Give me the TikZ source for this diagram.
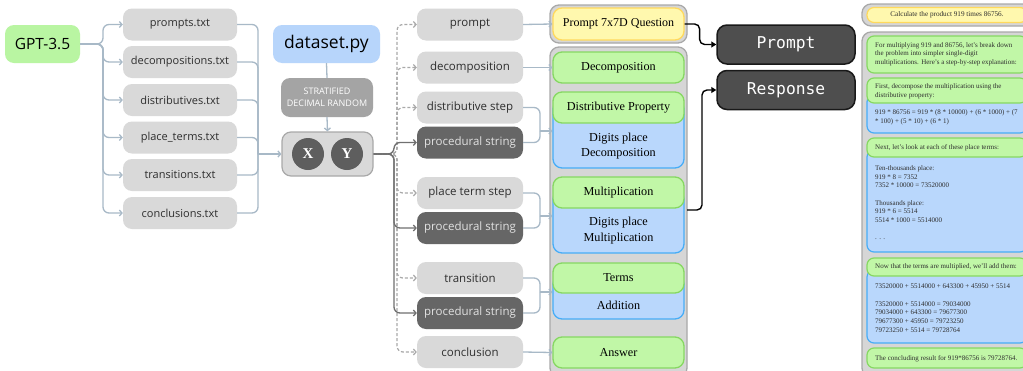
\documentclass[tikz,border=0pt]{standalone}
\usepackage{fontspec}
\setmainfont{Liberation Serif}
\newfontfamily\osans{Open Sans}
\newfontfamily\dmono{DejaVu Sans Mono}
\usetikzlibrary{arrows.meta,calc}
\definecolor{gptgreen}{HTML}{B9F5A2}
\definecolor{ggreen}{HTML}{C1F7A7}
\definecolor{ggreenb}{HTML}{86D862}
\definecolor{dsblue}{HTML}{B7D5FB}
\definecolor{fgray}{HTML}{D9D9D9}
\definecolor{tdark}{HTML}{2E2E2E}
\definecolor{pgray}{HTML}{666666}
\definecolor{ptext}{HTML}{E2E2E2}
\definecolor{sgray}{HTML}{A4A4A4}
\definecolor{cgray}{HTML}{D6D6D6}
\definecolor{cgrayb}{HTML}{A9A9A9}
\definecolor{yfill}{HTML}{FFF8AE}
\definecolor{yborder}{HTML}{FFD95C}
\definecolor{bfill}{HTML}{B9D7FC}
\definecolor{bborder}{HTML}{47ADF7}
\definecolor{dbox}{HTML}{4E4E4E}
\definecolor{cline}{HTML}{A8B9C7}
\definecolor{dline}{HTML}{A9A9A9}
\definecolor{sline}{HTML}{707070}
\definecolor{circ}{HTML}{5E5E5E}
\tikzset{
  base/.style={rounded corners=9pt, inner sep=0pt, align=center},
  filebox/.style={base, fill=fgray, text=tdark, minimum width=114pt, minimum height=32pt, font=\osans\fontsize{11}{13}\selectfont},
  midbox/.style={filebox, minimum width=106pt, font=\osans\fontsize{11.5}{13}\selectfont},
  procbox/.style={midbox, fill=pgray, text=ptext},
  bigbox/.style={base, minimum height=38pt, text=black},
  stratbox/.style={base, fill=sgray, text=white, minimum width=92pt, minimum height=39pt, font=\osans\fontsize{9}{12}\selectfont},
  xybox/.style={base, fill=fgray, draw=cgrayb, line width=1.2pt, minimum width=91pt, minimum height=44pt},
  xycirc/.style={circle, fill=circ, text=white, minimum size=32pt, inner sep=0pt, font=\bfseries\fontsize{15}{16}\selectfont},
  contbox/.style={rounded corners=9pt, fill=cgray, draw=cgrayb, line width=1.3pt, inner sep=0pt},
  ybox/.style={base, fill=yfill, draw=yborder, line width=1.3pt, minimum width=131pt, font=\fontsize{12}{13}\selectfont},
  gbox/.style={base, fill=ggreen, draw=ggreenb, line width=1.3pt, minimum width=131pt, font=\fontsize{12.2}{13}\selectfont},
  bbox/.style={base, fill=bfill, draw=bborder, line width=1.3pt, minimum width=131pt},
  btext/.style={align=center, inner sep=0pt, font=\fontsize{12.2}{15.3}\selectfont},
  darkbox/.style={rounded corners=10pt, fill=dbox, draw=black!90, line width=1.5pt, minimum width=138pt, minimum height=39pt, inner sep=0pt, text=white, font=\dmono\fontsize{16.3}{18}\selectfont},
  rgbox/.style={rounded corners=7pt, fill=ggreen, draw=ggreenb, line width=1.2pt, minimum width=160pt, inner sep=0pt},
  rbbox/.style={rounded corners=7pt, fill=bfill, draw=bborder, line width=1.2pt, minimum width=160pt, inner sep=0pt},
  rtext/.style={anchor=west, align=left, inner sep=0pt, text=tdark, font=\fontsize{7}{8.67}\selectfont},
  conn/.style={draw=cline, line width=1.3pt, rounded corners=6pt},
  arr/.style={-{Straight Barb[length=2.6pt,width=6pt]}},
  dconn/.style={draw=dline, line width=1.2pt, dash pattern=on 3pt off 2pt, rounded corners=6pt},
  sconn/.style={draw=sline, line width=1.3pt, rounded corners=6pt},
  bconn/.style={draw=black, line width=1.4pt, rounded corners=5pt, -{Triangle[length=5pt,width=6pt]}},
}
\begin{document}
\begin{tikzpicture}[x=1pt,y=-1pt]
\useasboundingbox (0,0) rectangle (1023,370);
\clip (0,0) rectangle (1023,370);
\fill[white] (0,0) rectangle (1023,370);

% left
\node[bigbox, fill=gptgreen, minimum width=75pt, font=\osans\fontsize{15.5}{18}\selectfont] (gpt) at (42.5,44) {GPT-3.5};
\node[filebox] (f1) at (180,24.5) {prompts.txt};
\node[filebox] (f2) at (180,62) {decompositions.txt};
\node[filebox] (f3) at (180,100) {distributives.txt};
\node[filebox] (f4) at (180,137.5) {place\_terms.txt};
\node[filebox] (f5) at (180,175) {transitions.txt};
\node[filebox] (f6) at (180,213) {conclusions.txt};
\coordinate (gs) at (103,44);
\foreach \f in {f1,f2,f3,f4,f5,f6}{
  \draw[conn,arr] (gpt.east) -- (gs) |- (\f.west);
}

% dataset
\node[bigbox, fill=dsblue, minimum width=107pt, font=\osans\fontsize{17.5}{19}\selectfont] (ds) at (326.5,44) {dataset.py};
\node[stratbox] (st) at (327,97.5) {STRATIFIED\\DECIMAL RANDOM};
\node[xybox] (xy) at (327.5,154) {};
\node[xycirc] (cx) at (308,154) {X};
\node[xycirc] (cy) at (347,154) {Y};
\draw[conn] (ds.south) -- (st.north);
\draw[conn,arr] (st.south) -- (xy.north);
\coordinate (mg) at (258,154);
\foreach \f in {f1,f2,f3,f4,f5,f6}{
  \draw[conn] (\f.east) -| (mg);
}
\draw[conn,arr] (mg) -- (xy.west);

% middle column
\node[midbox] (mp) at (470,24.5) {prompt};
\node[midbox] (md) at (470,67.5) {decomposition};
\node[midbox] (ms) at (470,107.5) {distributive step};
\node[procbox] (pr1) at (470,142.5) {procedural string};
\node[midbox] (mt) at (470,193) {place term step};
\node[procbox] (pr2) at (470,228) {procedural string};
\node[midbox] (mr) at (470,278) {transition};
\node[procbox] (pr3) at (470,313) {procedural string};
\node[midbox] (mc) at (470,352) {conclusion};

\coordinate (sp) at (394,154);
\coordinate (sq) at (397,154);
\foreach \m in {mp,md,ms,mt,mr,mc}{
  \draw[dconn,arr] (xy.east) -- (sq) |- (\m.west);
}
\foreach \m in {pr1,pr2,pr3}{
  \draw[sconn,arr] (xy.east) -- (sp) |- (\m.west);
}

% right column containers
\node[contbox, minimum width=137pt, minimum height=38pt] (c1) at (618.5,24) {};
\node[contbox, minimum width=137pt, minimum height=330pt] (c2) at (618.5,212) {};
\node[ybox, minimum height=32pt] (yq) at (618.5,24) {Prompt 7x7D Question};
\node[gbox, minimum height=31pt] (gd) at (618.5,67.5) {Decomposition};
\node[bbox, minimum height=68pt] (ba) at (618.5,134) {};
\node[btext] (ta) at (618.5,146) {Digits place\\Decomposition};
\node[gbox, minimum height=31pt] (ga) at (618.5,107.5) {Distributive Property};
\node[bbox, minimum height=63pt] (bb) at (618.5,221.5) {};
\node[btext] (tb) at (618.5,230.5) {Digits place\\Multiplication};
\node[gbox, minimum height=31pt] (gb) at (618.5,192.5) {Multiplication};
\node[bbox, minimum height=44pt] (bc) at (618.5,297) {};
\node[btext] (tc) at (618.5,305.5) {Addition};
\node[gbox, minimum height=30pt] (gc) at (618.5,278) {Terms};
\node[gbox, minimum height=31pt] (ge) at (618.5,352.5) {Answer};

\draw[conn,arr] (mp.east) -- (yq.west);
\draw[conn,arr] (md.east) -- (gd.west);
\draw[conn,arr] (mc.east) -- (ge.west);
\coordinate (m1) at (540,131);
\coordinate (m2) at (540,216);
\coordinate (m3) at (540,292);
\draw[conn] (ms.east) -| (m1);
\draw[conn] (pr1.east) -| (m1);
\draw[conn,arr] (m1) -- (ba.west |- m1);
\draw[conn] (mt.east) -| (m2);
\draw[conn] (pr2.east) -| (m2);
\draw[conn,arr] (m2) -- (bb.west |- m2);
\draw[conn] (mr.east) -| (m3);
\draw[conn] (pr3.east) -| (m3);
\draw[conn,arr] (m3) -- (bc.west |- m3);

% prompt / response
\node[darkbox] (pbox) at (786,44.5) {Prompt};
\node[darkbox] (rbox) at (786,90) {Response};
\coordinate (rsrc) at (687,210);
\draw[bconn] (yq.east) -- ++(15,0) |- (pbox.west);
\draw[bconn] (rsrc) -- ++(15,0) |- (rbox.west);

% right panel
\node[contbox, minimum width=175pt, minimum height=22pt] (rc1) at (949.5,15) {};
\node[contbox, minimum width=175pt, minimum height=345pt] (rc2) at (949.5,204.5) {};
\node[rounded corners=7pt, fill=yfill, draw=yborder, line width=1.2pt, minimum width=160pt, minimum height=15pt, inner sep=0pt, font=\fontsize{7.2}{8}\selectfont, text=tdark] (ry) at (947,15) {Calculate the product 919 times 86756.};
\node[rgbox, minimum height=37pt] (g1) at (947,54.5) {};
\node[rbbox, minimum height=38pt] (b2) at (947,114) {};
\node[rgbox, minimum height=25pt] (g2) at (947,90.5) {};
\node[rbbox, minimum height=102pt] (b3) at (947,201) {};
\node[rgbox, minimum height=19pt] (g3) at (947,147.5) {};
\node[rbbox, minimum height=73pt] (b4) at (947,306.5) {};
\node[rgbox, minimum height=18pt] (g4) at (947,267) {};
\node[rgbox, minimum height=20pt] (g5) at (947,358) {};

\node[rtext] (t1) at (875,54) {For multiplying 919 and 86756, let's break down\\the problem into simpler single-digit\\multiplications. Here's a step-by-step explanation:};
\node[rtext] (t2) at (875,91.2) {First, decompose the multiplication using the\\distributive property:};
\node[rtext] (t3) at (875,117.2) {919 * 86756 = 919 * (8 * 10000) + (6 * 1000) + (7\\* 100) + (5 * 10) + (6 * 1)};
\node[rtext] (t4) at (875,147.3) {Next, let's look at each of these place terms:};
\node[rtext] (t5) at (875,202.8) {Ten-thousands place:\\919 * 8 = 7352\\7352 * 10000 = 73520000\\[8.67pt]Thousands place:\\919 * 6 = 5514\\5514 * 1000 = 5514000\\[8.67pt]. . .};
\node[rtext] (t6) at (875,266.7) {Now that the terms are multiplied, we'll add them:};
\node[rtext] (t7) at (875,308.3) {73520000 + 5514000 + 643300 + 45950 + 5514\\[8.67pt]73520000 + 5514000 = 79034000\\79034000 + 643300 = 79677300\\79677300 + 45950 = 79723250\\79723250 + 5514 = 79728764};
\node[rtext] (t8) at (875,358.3) {The concluding result for 919*86756 is 79728764.};
\end{tikzpicture}
\end{document}
